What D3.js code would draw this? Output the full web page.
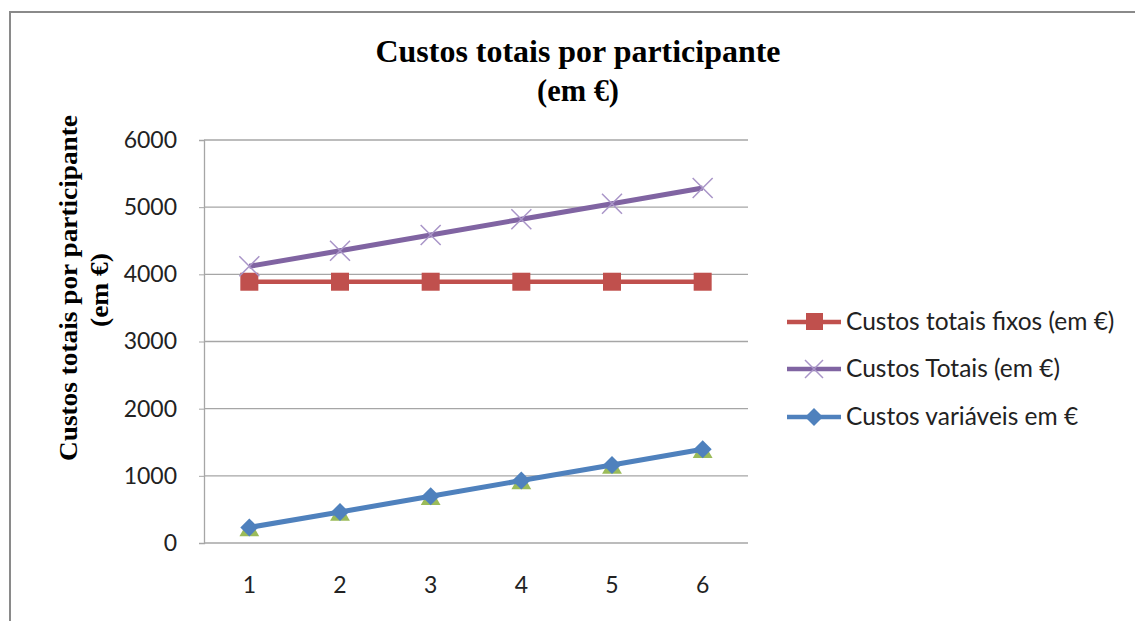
<!DOCTYPE html>
<html><head><meta charset="utf-8">
<script src="https://cdn.jsdelivr.net/npm/d3@7"></script>
<style>body{margin:0;background:#fff}svg{display:block}</style>
</head><body>
<svg id="c" width="1135" height="621"></svg>
<script>
const categories = [1, 2, 3, 4, 5, 6];
const fixos = [3890, 3890, 3890, 3890, 3890, 3890];
const totais = [4120, 4350, 4585, 4820, 5050, 5285];
const variaveis = [232, 462, 695, 930, 1160, 1395];
const variaveisSombra = [232, 462, 695, 930, 1160, 1395];
const yTicks = [0, 1000, 2000, 3000, 4000, 5000, 6000];
const seriesNames = ["Custos totais fixos (em €)", "Custos Totais (em €)", "Custos variáveis em €"];

const svg = d3.select("#c");
const bodyFont = "Lato, 'Open Sans', sans-serif";
const serif = "'Liberation Serif', 'Times New Roman', serif";

// outer frame
svg.append("rect").attr("x", 10).attr("y", 12).attr("width", 1140).attr("height", 620)
  .attr("fill", "none").attr("stroke", "#8a8a8a").attr("stroke-width", 2);

const L = 204, R = 748, T = 140, B = 543;
const x = d3.scaleBand().domain(categories).range([L, R]);
const y = d3.scaleLinear().domain([0, 6000]).range([B, T]);
const cx = d => x(d) + x.bandwidth() / 2;

// gridlines
svg.append("g").selectAll("line").data(yTicks.slice(1)).join("line")
  .attr("x1", L).attr("x2", R).attr("y1", d => y(d)).attr("y2", d => y(d))
  .attr("stroke", "#a6a6a6").attr("stroke-width", 1.3);

// y axis
const yAxis = svg.append("g").attr("transform", `translate(${L},0)`)
  .call(d3.axisLeft(y).tickValues(yTicks).tickFormat(d3.format("d")).tickSize(5).tickPadding(22));
yAxis.select(".domain").attr("stroke", "#a6a6a6").attr("stroke-width", 1.3);
yAxis.selectAll(".tick line").attr("stroke", "#a6a6a6");
yAxis.selectAll("text").attr("font-family", bodyFont).attr("font-size", 23).attr("fill", "#222");

// x axis
const xAxis = svg.append("g").attr("transform", `translate(0,${B})`)
  .call(d3.axisBottom(x).tickSize(0).tickPadding(34));
xAxis.select(".domain").attr("d", `M${L},0H${R}`).attr("stroke", "#a6a6a6").attr("stroke-width", 1.5);
xAxis.selectAll("text").attr("font-family", bodyFont).attr("font-size", 23).attr("fill", "#222");

// title
const title = svg.append("text").attr("text-anchor", "middle").attr("font-family", serif)
  .attr("font-weight", "bold").attr("font-size", 31).attr("fill", "#000");
title.append("tspan").attr("x", 578).attr("y", 62).text("Custos totais por participante")
  .attr("textLength", 405).attr("lengthAdjust", "spacingAndGlyphs");
title.append("tspan").attr("x", 578).attr("y", 101).text("(em €)")
  .attr("textLength", 82).attr("lengthAdjust", "spacingAndGlyphs");

// y label
const yl = svg.append("text").attr("text-anchor", "middle").attr("font-family", serif)
  .attr("font-weight", "bold").attr("font-size", 26).attr("fill", "#000")
  .attr("transform", "rotate(-90)");
yl.append("tspan").attr("x", -288).attr("y", 77).text("Custos totais  por participante")
  .attr("textLength", 346).attr("lengthAdjust", "spacingAndGlyphs");
yl.append("tspan").attr("x", -290).attr("y", 108).text("(em €)")
  .attr("textLength", 74).attr("lengthAdjust", "spacingAndGlyphs");

const line = d3.line().x((d, i) => cx(categories[i])).y(d => y(d));

// green triangle series beneath
svg.append("g").selectAll("path").data(variaveisSombra).join("path")
  .attr("d", d3.symbol().type(d3.symbolTriangle).size(170)())
  .attr("transform", (d, i) => `translate(${cx(categories[i])},${y(d) + 3})`)
  .attr("fill", "#9BBB59");

// fixos
svg.append("path").datum(fixos).attr("d", line).attr("fill", "none")
  .attr("stroke", "#C0504D").attr("stroke-width", 4.5);
svg.append("g").selectAll("rect").data(fixos).join("rect")
  .attr("x", (d, i) => cx(categories[i]) - 9).attr("y", d => y(d) - 9)
  .attr("width", 18).attr("height", 18).attr("fill", "#C0504D");

// totais
svg.append("path").datum(totais).attr("d", line).attr("fill", "none")
  .attr("stroke", "#8064A2").attr("stroke-width", 5);
svg.append("g").selectAll("path").data(totais).join("path")
  .attr("d", "M-10,-10L10,10M-10,10L10,-10")
  .attr("transform", (d, i) => `translate(${cx(categories[i])},${y(d)})`)
  .attr("stroke", "#a995c8").attr("stroke-width", 1.5).attr("fill", "none");

// variaveis
svg.append("path").datum(variaveis).attr("d", line).attr("fill", "none")
  .attr("stroke", "#4F81BD").attr("stroke-width", 5);
svg.append("g").selectAll("path").data(variaveis).join("path")
  .attr("d", "M0,-9L9,0L0,9L-9,0Z")
  .attr("transform", (d, i) => `translate(${cx(categories[i])},${y(d)})`)
  .attr("fill", "#4F81BD");

// legend
const legColors = ["#C0504D", "#8064A2", "#4F81BD"];
const legY = [322, 369, 417];
const lg = svg.append("g");
seriesNames.forEach((name, i) => {
  const g = lg.append("g").attr("transform", `translate(0,${legY[i]})`);
  g.append("line").attr("x1", 787).attr("x2", 841).attr("stroke", legColors[i]).attr("stroke-width", 4.5);
  if (i === 0) g.append("rect").attr("x", 806).attr("y", -9).attr("width", 17).attr("height", 17).attr("fill", legColors[i]);
  if (i === 1) g.append("path").attr("d", "M805,-9L823,9M805,9L823,-9").attr("stroke", "#a995c8").attr("stroke-width", 1.5);
  if (i === 2) g.append("path").attr("d", "M814,-9L823,0L814,9L805,0Z").attr("fill", legColors[i]);
  g.append("text").attr("x", 846).attr("y", 8).attr("font-family", bodyFont).attr("font-size", 24.5)
    .attr("fill", "#222").text(name);
});
</script>
</body></html>
